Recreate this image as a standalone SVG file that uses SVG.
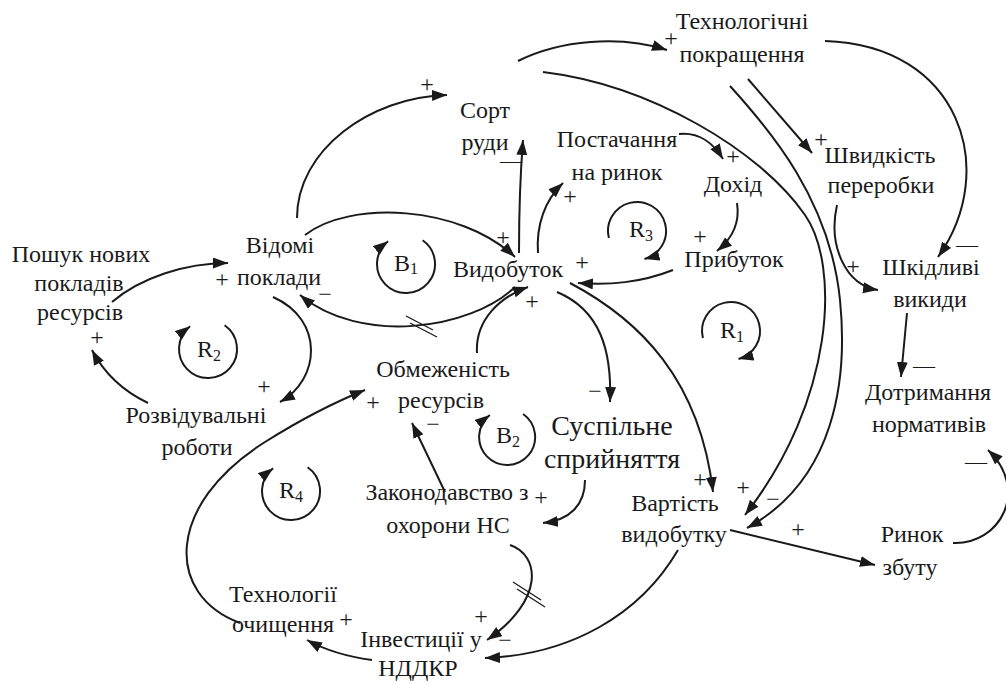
<svg xmlns="http://www.w3.org/2000/svg" width="1006" height="684" viewBox="0 0 1006 684">
<defs>
<marker id="ah" markerUnits="userSpaceOnUse" markerWidth="16" markerHeight="12" refX="15" refY="5.5" orient="auto">
<path d="M0,0 L15,5.5 L0,11 z" fill="#1a1a1a"/>
</marker>
<style>
text{font-family:"Liberation Serif","Times New Roman",serif}
.t{font-size:24px;fill:#1a1a1a;text-anchor:middle}
.big{font-size:28px}
.p{font-size:24px;fill:#1a1a1a;text-anchor:middle}
.d{font-size:22px}
.c{fill:none;stroke:#1a1a1a;stroke-width:2;marker-end:url(#ah)}
.dl{stroke:#1a1a1a;stroke-width:1.3}
.sub{font-size:16px}
</style>
</defs>
<rect width="1006" height="684" fill="#ffffff"/>

<g id="connectors">
<path class="c" d="M297,218 C297,150 370,97 447,95"/>
<path class="c" d="M519,253 Q519,190 523,140"/>
<path class="c" d="M538,253 C536,225 545,200 563,183"/>
<path class="c" d="M679,134 C700,132 713,143 723,159"/>
<path class="c" d="M737,203 C740,222 733,238 717,251"/>
<path class="c" d="M673,270 C640,283 610,285 578,283"/>
<path class="c" d="M305,235 C350,200 460,205 515,257"/>
<path class="c" d="M515,287 C470,330 360,345 300,295"/>
<line class="dl" x1="406" y1="316" x2="433" y2="330"/>
<line class="dl" x1="410" y1="323" x2="437" y2="337"/>
<path class="c" d="M477,353 C475,320 500,297 528,287"/>
<path class="c" d="M557,292 C600,310 612,350 610,402"/>
<path class="c" d="M570,283 C640,320 700,380 713,492"/>
<path class="c" d="M518,61 C560,40 620,35 667,50"/>
<path class="c" d="M543,72 C650,85 760,150 805,215 C840,265 835,400 745,515"/>
<path class="c" d="M730,86 C770,130 830,200 840,300 C848,380 835,480 747,528"/>
<path class="c" d="M748,79 L812,153"/>
<path class="c" d="M825,41 C960,45 1000,170 938,257"/>
<path class="c" d="M837,205 C828,245 845,285 878,290"/>
<path class="c" d="M907,313 L901,377"/>
<path class="c" d="M953,543 C1000,545 1030,490 988,450"/>
<path class="c" d="M730,530 L875,565"/>
<path class="c" d="M678,550 C640,615 570,655 485,658"/>
<path class="c" d="M510,545 C540,555 545,600 487,640"/>
<line class="dl" x1="513" y1="582" x2="541" y2="600"/>
<line class="dl" x1="517" y1="589" x2="545" y2="607"/>
<path class="c" d="M585,480 C585,505 570,520 543,523"/>
<path class="c" d="M445,492 L412,423"/>
<path class="c" d="M240,623 C165,595 165,505 265,442 C300,420 335,402 365,390"/>
<path class="c" d="M372,660 C350,657 325,650 307,640"/>
<path class="c" d="M273,297 C325,320 320,380 280,402"/>
<path class="c" d="M148,403 C125,392 105,375 92,350"/>
<path class="c" d="M112,302 C140,278 185,263 228,263"/>
</g>

<g id="polarities">
<text class="p" x="427" y="92">+</text>
<text class="p d" x="511" y="168">—</text>
<text class="p" x="570" y="204">+</text>
<text class="p" x="733" y="164">+</text>
<text class="p" x="700" y="244">+</text>
<text class="p" x="582" y="270">+</text>
<text class="p" x="503" y="245">+</text>
<text class="p" x="325" y="302">−</text>
<text class="p" x="532" y="309">+</text>
<text class="p" x="595" y="399">−</text>
<text class="p" x="700" y="487">+</text>
<text class="p" x="671" y="46">+</text>
<text class="p" x="821" y="147">+</text>
<text class="p d" x="967" y="252">—</text>
<text class="p" x="853" y="274">+</text>
<text class="p d" x="924" y="373">—</text>
<text class="p d" x="976" y="469">—</text>
<text class="p" x="798" y="537">+</text>
<text class="p" x="743" y="495">+</text>
<text class="p" x="773" y="507">−</text>
<text class="p" x="505" y="648">−</text>
<text class="p" x="481" y="624">+</text>
<text class="p" x="541" y="505">+</text>
<text class="p" x="433" y="432">−</text>
<text class="p" x="373" y="410">+</text>
<text class="p" x="346" y="627">+</text>
<text class="p" x="264" y="394">+</text>
<text class="p" x="97" y="345">+</text>
<text class="p" x="222" y="287">+</text>
</g>

<g id="loops">
<path class="c" d="M422.6,240.2 A29,29 0 1 1 388.1,241.2"/>
<text class="t" x="406" y="271">B<tspan class="sub" dy="3">1</tspan></text>
<path class="c" d="M224.6,325.2 A29,29 0 1 1 190.1,326.2"/>
<text class="t" x="209" y="357">R<tspan class="sub" dy="4">2</tspan></text>
<path class="c" d="M523.1,414 A28,28 0 1 1 489.8,415"/>
<text class="t" x="508" y="443">B<tspan class="sub" dy="4">2</tspan></text>
<path class="c" d="M307.6,467.2 A29,29 0 1 1 273.1,468.2"/>
<text class="t" x="291" y="498">R<tspan class="sub" dy="4">4</tspan></text>
<path class="c" d="M608.9,238 A29,29 0 1 1 644.5,259"/>
<text class="t" x="641" y="237">R<tspan class="sub" dy="4">3</tspan></text>
<path class="c" d="M702.9,338 A29,29 0 1 1 738.5,359"/>
<text class="t" x="732" y="338">R<tspan class="sub" dy="4">1</tspan></text>
</g>

<g id="n_tech"><text class="t" x="742" y="29">Технологічні</text><text class="t" x="742" y="62">покращення</text></g>
<g id="n_sort"><text class="t" x="485" y="118">Сорт</text><text class="t" x="485" y="150">руди</text></g>
<g id="n_supply"><text class="t" x="617" y="147">Постачання</text><text class="t" x="617" y="180">на ринок</text></g>
<g id="n_income"><text class="t" x="733" y="192">Дохід</text></g>
<g id="n_profit"><text class="t" x="734" y="267">Прибуток</text></g>
<g id="n_speed"><text class="t" x="880" y="163">Швидкість</text><text class="t" x="881" y="193">переробки</text></g>
<g id="n_emis"><text class="t" x="931" y="275">Шкідливі</text><text class="t" x="930" y="307">викиди</text></g>
<g id="n_compl"><text class="t" x="928" y="400">Дотримання</text><text class="t" x="929" y="432">нормативів</text></g>
<g id="n_market"><text class="t" x="912" y="542">Ринок</text><text class="t" x="910" y="575">збуту</text></g>
<g id="n_cost"><text class="t" x="675" y="511">Вартість</text><text class="t" x="674" y="542">видобутку</text></g>
<g id="n_percep"><text class="t big" x="612" y="435">Суспільне</text><text class="t big" x="612" y="468">сприйняття</text></g>
<g id="n_law"><text class="t" x="447" y="500">Законодавство з</text><text class="t" x="448" y="533">охорони НС</text></g>
<g id="n_limit"><text class="t" x="443" y="377">Обмеженість</text><text class="t" x="441" y="408">ресурсів</text></g>
<g id="n_prod"><text class="t" x="508" y="277">Видобуток</text></g>
<g id="n_known"><text class="t" x="280" y="253">Відомі</text><text class="t" x="279" y="285">поклади</text></g>
<g id="n_search"><text class="t" x="81" y="262">Пошук нових</text><text class="t" x="79" y="291">покладів</text><text class="t" x="80" y="320">ресурсів</text></g>
<g id="n_explor"><text class="t" x="196" y="423">Розвідувальні</text><text class="t" x="197" y="455">роботи</text></g>
<g id="n_clean"><text class="t" x="283" y="602">Технології</text><text class="t" x="283" y="632">очищення</text></g>
<g id="n_invest"><text class="t" x="421" y="647">Інвестиції у</text><text class="t" x="418" y="676">НДДКР</text></g>
</svg>
